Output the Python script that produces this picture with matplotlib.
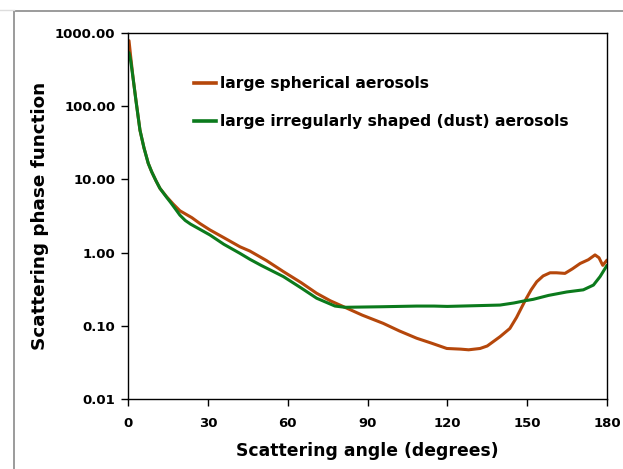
import matplotlib
matplotlib.use("Agg")
import matplotlib.pyplot as plt
from matplotlib.lines import Line2D
from matplotlib.ticker import NullLocator

# Data
sph_angle = [0.38, 1, 2, 3, 4.5, 6, 7.6, 8.9, 10.5, 12, 14.5, 17, 19.5, 24, 27, 30.8, 36,
             42.1, 45.8, 52, 58.4, 65, 70.9, 76, 81.5, 88, 95.9, 102, 108.5, 114, 119.8,
             125, 128, 132.3, 135, 139.8, 143.5, 146, 149.2, 151.5, 153.6, 156, 158.6,
             161, 164.2, 167, 169.9, 173, 175.5, 177, 178.4, 180]
sph_val = [785, 480, 228, 120, 47, 27, 16.6, 12.7, 9.6, 7.55, 5.8, 4.6, 3.73, 3.0, 2.5,
           2.04, 1.6, 1.2, 1.05, 0.78, 0.55, 0.39, 0.278, 0.22, 0.179, 0.14, 0.108, 0.085,
           0.0676, 0.058, 0.049, 0.048, 0.047, 0.049, 0.053, 0.071, 0.092, 0.13, 0.22,
           0.31, 0.40, 0.48, 0.53, 0.53, 0.52, 0.6, 0.71, 0.8, 0.93, 0.85, 0.67, 0.79]

dust_angle = [0.38, 1, 2, 3, 4.5, 6, 7.6, 8.9, 10.5, 12, 14.5, 16, 17.7, 19.5, 21.5, 23.5,
              27, 30.8, 36, 42.1, 45.8, 50, 58.4, 65, 70.9, 77.8, 81.5, 86, 95, 108.5,
              115, 120, 130, 139.8, 145, 149.2, 152.3, 158, 164.9, 171.1, 174.9, 177.4,
              180]
dust_val = [538, 420, 228, 118, 47, 27, 16.6, 12.7, 9.6, 7.55, 5.7, 4.85, 4.0, 3.25, 2.75,
            2.45, 2.08, 1.74, 1.3, 0.975, 0.81, 0.67, 0.47, 0.33, 0.238, 0.186, 0.179,
            0.18, 0.182, 0.186, 0.186, 0.184, 0.188, 0.192, 0.205, 0.22, 0.23, 0.26,
            0.29, 0.31, 0.36, 0.47, 0.67]

x_ticks = [0, 30, 60, 90, 120, 150, 180]
y_ticks = [0.01, 0.1, 1, 10, 100, 1000]
y_tick_labels = ["0.01", "0.10", "1.00", "10.00", "100.00", "1000.00"]

labels = ["large spherical aerosols", "large irregularly shaped (dust) aerosols"]
colors = ["#B5470B", "#0B7A1C"]

plt.rcParams['font.family'] = ['DejaVu Sans']

W, H = 623, 469
fig = plt.figure(figsize=(W / 100, H / 100), dpi=100)
fig.patch.set_facecolor("white")
ax = fig.add_axes([128 / W, 1 - 399 / H, (607 - 128) / W, (399 - 33) / H])

ax.plot(sph_angle, sph_val, color=colors[0], lw=2.2, solid_capstyle='round',
        solid_joinstyle='round')
ax.plot(dust_angle, dust_val, color=colors[1], lw=2.2, solid_capstyle='round',
        solid_joinstyle='round')

ax.set_yscale('log')
ax.set_xlim(0, 180)
ax.set_ylim(0.01, 1000)
ax.set_xticks(x_ticks)
ax.set_xticklabels([str(t) for t in x_ticks], fontsize=9.5, fontweight='bold')
ax.set_yticks(y_ticks)
ax.set_yticklabels(y_tick_labels, fontsize=9.5, fontweight='bold')
ax.yaxis.set_minor_locator(NullLocator())
ax.tick_params(axis='both', direction='out', length=5, width=1, color='black')
ax.tick_params(axis='y', pad=4)
ax.tick_params(axis='x', pad=8)
for s in ax.spines.values():
    s.set_linewidth(1.0)
    s.set_color('black')

# axis titles placed in figure pixel positions, sized to the reference widths
xl = fig.text(367.5 / W, 1 - 451 / H, "Scattering angle (degrees)", ha='center', va='center',
              fontsize=12, fontweight='bold')
yl = fig.text(40.5 / W, 1 - 216 / H, "Scattering phase function", ha='center', va='center',
              rotation=90, fontsize=12, fontweight='bold')

# legend drawn by hand in axes fraction coords
def ax_pt(px, py):
    return ((px - 128) / (607 - 128), (399 - py) / (399 - 33))

legs = []
for i, (lab, c) in enumerate(zip(labels, colors)):
    py = [83.3, 121.0][i]
    x0, y0 = ax_pt(194, py)
    x1, _ = ax_pt(215.5, py)
    ax.add_line(Line2D([x0, x1], [y0, y0], transform=ax.transAxes, color=c, lw=2.6))
    tx, _ = ax_pt(220, py)
    legs.append(ax.text(tx, y0, lab, transform=ax.transAxes, ha='left', va='center',
                        fontsize=11, fontweight='bold'))

# fit text sizes to reference pixel widths
fig.canvas.draw()
r = fig.canvas.get_renderer()
def fit(t, target, horiz=True):
    bb = t.get_window_extent(r)
    cur = bb.width if horiz else bb.height
    t.set_fontsize(t.get_fontsize() * target / cur)
fit(xl, 261)
fit(yl, 268, horiz=False)
fit(legs[0], 208.6)
legs[1].set_fontsize(legs[0].get_fontsize())

# slide border lines
fig.add_artist(Line2D([14 / W, 14 / W], [0, 1 - 11 / H], color='#8a8a8a', lw=1.2))
fig.add_artist(Line2D([14 / W, 1], [1 - 11 / H, 1 - 11 / H], color='#8a8a8a', lw=1.2))
fig.add_artist(Line2D([0, 14 / W], [1 - 10 / H, 1 - 10 / H], color='#dddddd', lw=1.0))

fig.savefig("out.png", dpi=100, facecolor="white")
